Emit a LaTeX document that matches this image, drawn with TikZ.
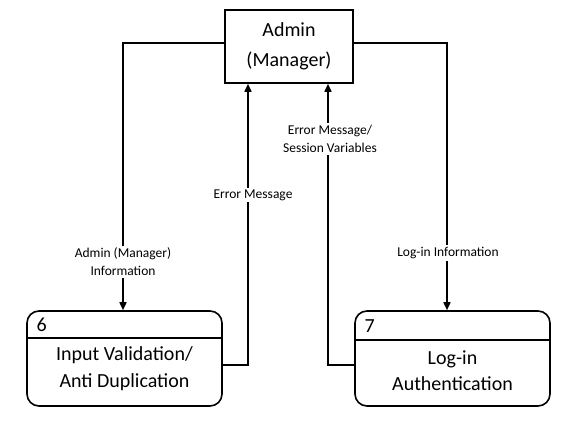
\documentclass[tikz,border=0pt]{standalone}
\usepackage{fontspec}
\setmainfont{Carlito}
\usetikzlibrary{arrows.meta,shapes.multipart}
\begin{document}
\begin{tikzpicture}[x=1pt,y=-1pt,
  line/.style={line width=1.6pt},
  flow/.style={line, -{Triangle[length=8pt,width=7pt]}},
  lbl/.style={fill=white,font=\fontsize{13.5}{18}\selectfont,align=center,inner sep=2pt},
  ext/.style={draw,line width=1.6pt,minimum width=128pt,minimum height=73pt,align=center,font=\fontsize{20}{30}\selectfont},
  proc/.style={draw,line width=1.6pt,rounded corners=12pt,minimum width=195pt,minimum height=95pt}]
\useasboundingbox (0,0) rectangle (576,439);
\node[ext] (admin) at (289,46.5) {Admin\\(Manager)};
\node[proc] (p6) at (124.5,358.5) {};
\node[proc] (p7) at (452.5,358.5) {};
\draw[line] (p6.west |- 0,338) -- (p6.east |- 0,338);
\draw[line] (p7.west |- 0,340) -- (p7.east |- 0,340);
\node[anchor=west,font=\fontsize{20}{24}\selectfont] (n6) at (33,325) {6};
\node[anchor=west,font=\fontsize{20}{24}\selectfont] (n7) at (361,326) {7};
\node[font=\fontsize{20}{27}\selectfont,align=center] (t6) at (124.5,369) {Input Validation/\\Anti Duplication};
\node[font=\fontsize{20}{26}\selectfont,align=center] (t7) at (452.5,371) {Log-in\\Authentication};
\coordinate (a1) at (123,43);
\coordinate (a2) at (447,43);
\draw[flow] (admin.west |- a1) -| (p6.north -| a1);
\draw[flow] (admin.east |- a2) -| (p7.north -| a2);
\draw[flow] (p6.east |- 0,365) -| (admin.south -| 248,0);
\draw[flow] (p7.west |- 0,365) -| (admin.south -| 328,0);
\node[lbl] (l1) at (123,262) {Admin (Manager)\\Information};
\node[lbl] (l2) at (253,195) {Error Message};
\node[lbl] (l3) at (330,139) {Error Message/\\Session Variables};
\node[lbl] (l4) at (448,253) {Log-in Information};
\end{tikzpicture}
\end{document}
